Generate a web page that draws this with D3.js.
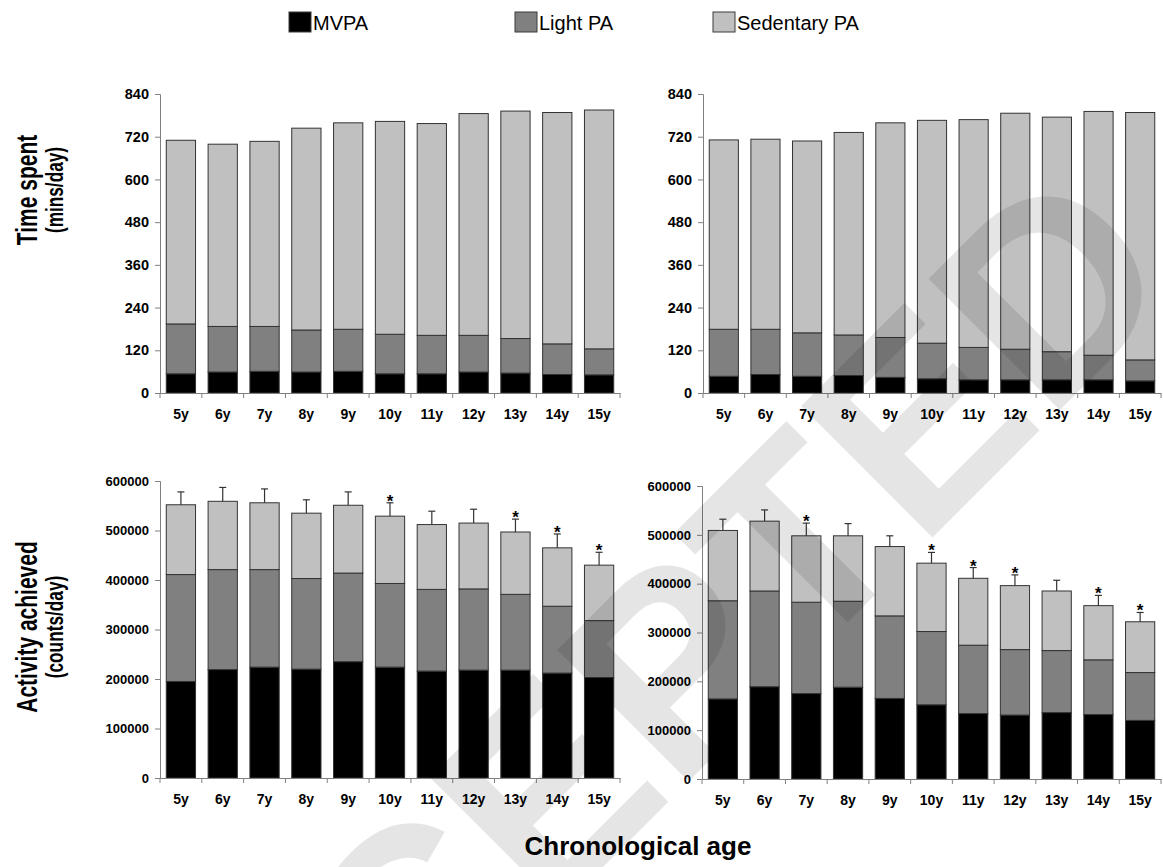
<!DOCTYPE html>
<html>
<head>
<meta charset="utf-8">
<script src="https://cdn.jsdelivr.net/npm/d3@7"></script>
<style>
  body { margin: 0; background: #fff; }
  svg { font-family: "Liberation Sans", Arial, sans-serif; }
  .tick text { font-weight: bold; fill: #000; }
</style>
</head>
<body>
<svg id="chart" width="1163" height="867"></svg>
<script>
var ages = ["5y", "6y", "7y", "8y", "9y", "10y", "11y", "12y", "13y", "14y", "15y"];
var keys = ["mvpa", "light", "sedentary"];
var legendNames = ["MVPA", "Light PA", "Sedentary PA"];
var colors = ["#000000", "#808080", "#c0c0c0"];

// time spent (mins/day), left and right panels
var timeLeftMVPA = [54, 59, 61, 59, 61, 54, 54, 59, 56, 52, 51];
var timeLeftLight = [140, 128, 126, 118, 118, 111, 108, 103, 97, 86, 73];
var timeLeftSed = [516, 512, 520, 567, 580, 598, 595, 623, 639, 650, 671];

var timeRightMVPA = [47, 52, 47, 49, 44, 40, 37, 37, 37, 37, 34];
var timeRightLight = [132, 127, 122, 114, 112, 100, 91, 86, 79, 69, 59];
var timeRightSed = [532, 534, 539, 569, 603, 626, 640, 663, 659, 685, 695];

// activity achieved (counts/day)
var countLeftMVPA = [195000, 219000, 224000, 220000, 235000, 224000, 216000, 218000, 218000, 212000, 203000];
var countLeftLight = [216000, 202000, 197000, 183000, 179000, 169000, 165000, 164000, 153000, 135000, 115000];
var countLeftSed = [141000, 138000, 135000, 132000, 137000, 136000, 131000, 133000, 126000, 118000, 112000];
var countLeftErr = [26000, 28000, 28000, 27000, 27000, 27000, 27000, 28000, 26000, 28000, 26000];
var countLeftStar = [0, 0, 0, 0, 0, 1, 0, 0, 1, 1, 1];

var countRightMVPA = [164000, 189000, 175000, 188000, 165000, 152000, 134000, 131000, 136000, 132000, 120000];
var countRightLight = [201000, 196000, 187000, 176000, 169000, 150000, 140000, 134000, 127000, 112000, 98000];
var countRightSed = [144000, 143000, 136000, 134000, 142000, 140000, 137000, 131000, 122000, 111000, 104000];
var countRightErr = [23000, 23000, 26000, 25000, 22000, 22000, 22000, 22000, 22000, 21000, 19000];
var countRightStar = [0, 0, 1, 0, 0, 1, 1, 1, 0, 1, 1];

var timeTicks = [0, 120, 240, 360, 480, 600, 720, 840];
var countTicks = [0, 100000, 200000, 300000, 400000, 500000, 600000];

var svg = d3.select("#chart");

function rows(mvpa, light, sed, err, star) {
    return ages.map(function (a, i) {
        return { age: a, mvpa: mvpa[i], light: light[i], sedentary: sed[i],
                 err: err ? err[i] : 0, star: star ? star[i] : 0 };
    });
}

function drawPanel(data, box, yMax, ticks, yFont) {
    var x = d3.scaleBand().domain(ages).range([box.x0, box.x1]).paddingInner(0.3).paddingOuter(0.15);
    var y = d3.scaleLinear().domain([0, yMax]).range([box.yb, box.yt]);
    var g = svg.append("g");
    var series = d3.stack().keys(keys)(data);

    g.selectAll(".layer").data(series).enter()
        .append("g")
        .attr("fill", function (d, i) { return colors[i]; })
        .selectAll("rect").data(function (d) { return d; }).enter()
        .append("rect")
        .attr("x", function (d) { return x(d.data.age); })
        .attr("y", function (d) { return y(d[1]); })
        .attr("width", x.bandwidth())
        .attr("height", function (d) { return y(d[0]) - y(d[1]); })
        .attr("stroke", "#333")
        .attr("stroke-width", 1);

    // upper error bars + significance stars
    var top = series[series.length - 1];
    var eb = g.selectAll(".err").data(top.filter(function (d) { return d.data.err > 0; })).enter().append("g");
    eb.append("line")
        .attr("x1", function (d) { return x(d.data.age) + x.bandwidth() / 2; })
        .attr("x2", function (d) { return x(d.data.age) + x.bandwidth() / 2; })
        .attr("y1", function (d) { return y(d[1]); })
        .attr("y2", function (d) { return y(d[1] + d.data.err); })
        .attr("stroke", "#333").attr("stroke-width", 1.2);
    eb.append("line")
        .attr("x1", function (d) { return x(d.data.age) + x.bandwidth() / 2 - 3.5; })
        .attr("x2", function (d) { return x(d.data.age) + x.bandwidth() / 2 + 3.5; })
        .attr("y1", function (d) { return y(d[1] + d.data.err); })
        .attr("y2", function (d) { return y(d[1] + d.data.err); })
        .attr("stroke", "#333").attr("stroke-width", 1.2);
    eb.filter(function (d) { return d.data.star; })
        .append("text")
        .attr("x", function (d) { return x(d.data.age) + x.bandwidth() / 2; })
        .attr("y", function (d) { return y(d[1] + d.data.err) + 4; })
        .attr("text-anchor", "middle")
        .attr("font-size", 17).attr("font-weight", "bold")
        .text("*");

    g.append("g")
        .attr("transform", "translate(" + box.x0 + ",0)")
        .call(d3.axisLeft(y).tickValues(ticks).tickSize(5).tickPadding(6).tickFormat(d3.format("d")))
        .selectAll("text").attr("font-size", yFont);
    var xAxis = g.append("g")
        .attr("transform", "translate(0," + box.yb + ")")
        .call(d3.axisBottom(x).tickSize(0).tickPadding(16));
    xAxis.selectAll("text").attr("font-size", 14);
    // ticks sit on the band edges, between the bars
    var edges = ages.map(function (a) { return x(a) - x.step() * x.paddingOuter(); }).concat([box.x1]);
    xAxis.selectAll(".edge").data(edges).enter()
        .append("line")
        .attr("x1", function (d) { return d; })
        .attr("x2", function (d) { return d; })
        .attr("y1", 0).attr("y2", 5)
        .attr("stroke", "#808080");
    svg.selectAll(".domain").attr("stroke", "#808080");
    svg.selectAll(".tick line").attr("stroke", "#808080");
}

drawPanel(rows(timeLeftMVPA, timeLeftLight, timeLeftSed), { x0: 160, x1: 620, yb: 393, yt: 94 }, 840, timeTicks, 14.5);
drawPanel(rows(timeRightMVPA, timeRightLight, timeRightSed), { x0: 703, x1: 1161, yb: 393, yt: 94 }, 840, timeTicks, 14.5);
drawPanel(rows(countLeftMVPA, countLeftLight, countLeftSed, countLeftErr, countLeftStar), { x0: 160, x1: 620, yb: 778, yt: 481 }, 600000, countTicks, 13);
drawPanel(rows(countRightMVPA, countRightLight, countRightSed, countRightErr, countRightStar), { x0: 702, x1: 1161, yb: 779, yt: 486 }, 600000, countTicks, 13);

// legend
var legendX = [289, 515, 713];
var leg = svg.append("g").selectAll("g").data(legendNames).enter().append("g")
    .attr("transform", function (d, i) { return "translate(" + legendX[i] + ",12)"; });
leg.append("rect").attr("width", 22).attr("height", 20)
    .attr("fill", function (d, i) { return colors[i]; })
    .attr("stroke", "#3a3a3a");
leg.append("text").attr("x", 24).attr("y", 18)
    .attr("font-size", 20)
    .text(function (d) { return d; });

// axis titles (condensed bold, rotated)
function yTitle(cx, cy, main, sub) {
    var t = svg.append("g").attr("transform", "translate(" + cx + "," + cy + ") rotate(-90)");
    t.append("text").attr("text-anchor", "middle")
        .attr("transform", "scale(0.7,1)")
        .attr("font-size", 30).attr("font-weight", "bold").text(main);
    t.append("text").attr("text-anchor", "middle")
        .attr("transform", "translate(0,26) scale(0.75,1)")
        .attr("font-size", 23).attr("font-weight", "bold").text(sub);
}
yTitle(37, 190, "Time spent", "(mins/day)");
yTitle(37, 627, "Activity achieved", "(counts/day)");

svg.append("text").attr("x", 638).attr("y", 855)
    .attr("text-anchor", "middle")
    .attr("font-size", 26).attr("font-weight", "bold")
    .text("Chronological age");

// faint diagonal watermark laid over the figure
svg.append("text")
    .attr("transform", "translate(1185,285) rotate(-45)")
    .attr("text-anchor", "end")
    .attr("font-size", 270).attr("font-weight", "bold")
    .attr("fill", "#000").attr("fill-opacity", 0.1)
    .attr("pointer-events", "none")
    .text("ACCEPTED");
</script>
</body>
</html>
